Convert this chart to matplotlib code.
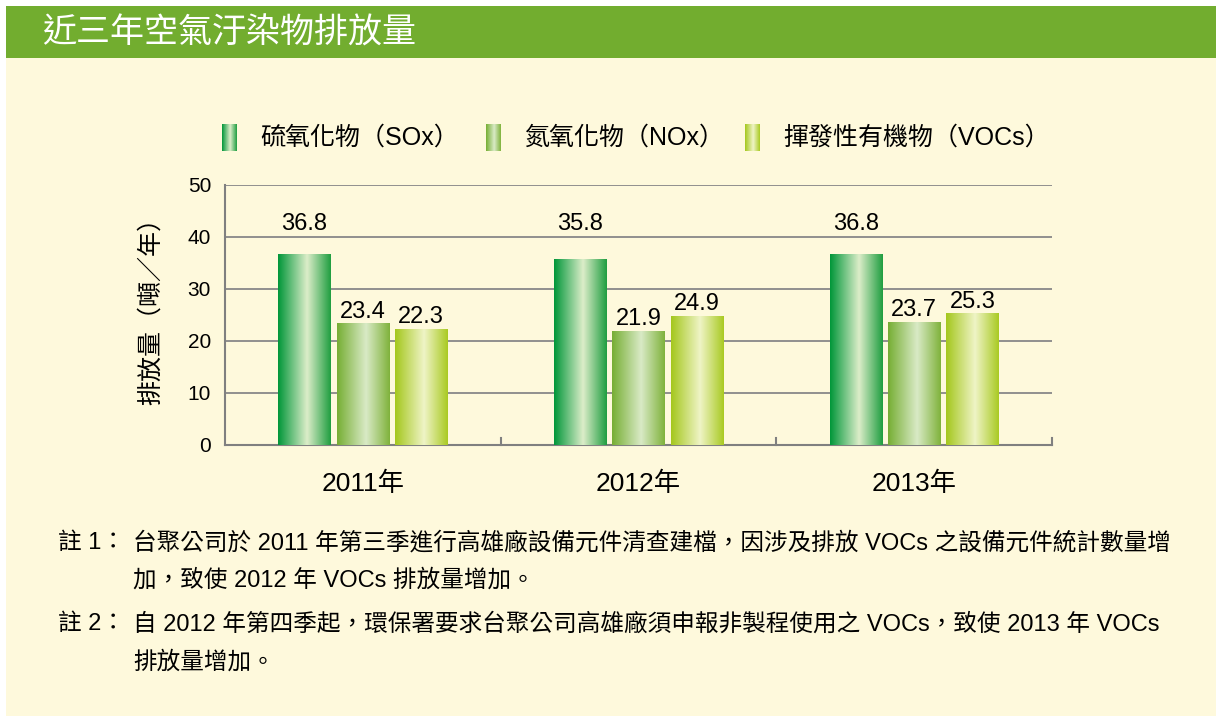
import matplotlib
matplotlib.use("Agg")
import matplotlib.pyplot as plt
import numpy as np
from matplotlib.colors import LinearSegmentedColormap
from matplotlib.patches import Rectangle

plt.rcParams['font.family'] = ['Liberation Sans', 'Noto Sans CJK TC']

# data
years = ["2011年", "2012年", "2013年"]
series_names = ["硫氧化物（SOx）", "氮氧化物（NOx）", "揮發性有機物（VOCs）"]
sox = [36.8, 35.8, 36.8]
nox = [23.4, 21.9, 23.7]
vocs = [22.3, 24.9, 25.3]
yticks = [0, 10, 20, 30, 40, 50]

title = "近三年空氣汙染物排放量"
ylabel = "排放量（噸／年）"
note1_a = "台聚公司於 2011 年第三季進行高雄廠設備元件清查建檔，因涉及排放 VOCs 之設備元件統計數量增"
note1_b = "加，致使 2012 年 VOCs 排放量增加。"
note2_a = "自 2012 年第四季起，環保署要求台聚公司高雄廠須申報非製程使用之 VOCs，致使 2013 年 VOCs"
note2_b = "排放量增加。"

# gradient stops (edge, highlight, edge)
grad_colors = [
    ["#009639", "#dcedc9", "#1f9e40"],
    ["#76ae33", "#d9eac6", "#7fb23b"],
    ["#a4c71c", "#eff4c6", "#a9ca22"],
]
cmaps = [LinearSegmentedColormap.from_list("g%d" % i, [(0, c[0]), (0.55, c[1]), (1, c[2])])
         for i, c in enumerate(grad_colors)]
grad = np.linspace(0, 1, 256).reshape(1, -1)

W, H = 1216, 716
fig = plt.figure(figsize=(W / 100, H / 100), dpi=100)
fig.patch.set_facecolor("white")

def fx(px):
    return px / W

def fy(py):
    return 1 - py / H

# background panels
fig.patches.append(Rectangle((fx(6), 0), 1 - fx(6), fy(58), transform=fig.transFigure,
                             facecolor="#fef9dc", edgecolor="none", zorder=-5))
fig.patches.append(Rectangle((fx(6), fy(58)), 1 - fx(6), fy(6) - fy(58), transform=fig.transFigure,
                             facecolor="#72ad2f", edgecolor="none", zorder=-5))
fig.text(fx(42), fy(33), title, color="white", fontsize=24.5, va="center", ha="left")

ax = fig.add_axes([fx(225), fy(445), fx(1052) - fx(225), fy(185) - fy(445)])
ax.set_facecolor("none")

x = np.arange(len(years))
bw = 0.19
step = 0.212
all_series = [sox, nox, vocs]
for i, vals in enumerate(all_series):
    bars = ax.bar(x + (i - 1) * step, vals, bw, color=grad_colors[i][0], zorder=3)
    for b in bars:
        im = ax.imshow(grad, cmap=cmaps[i], aspect="auto", zorder=4,
                       extent=[b.get_x(), b.get_x() + b.get_width(), 0, b.get_height()])
        im.set_clip_path(b)

# value labels
SOX_LABEL_Y = 42.5
for j in range(len(years)):
    ax.text(x[j] - step, SOX_LABEL_Y, "%.1f" % sox[j], ha="center", va="center", fontsize=17, zorder=5)
for i, vals in enumerate([nox, vocs]):
    for j, v in enumerate(vals):
        ax.annotate("%.1f" % v, (x[j] + i * step, v), xytext=(0, 0.5), textcoords="offset points",
                    ha="center", va="bottom", fontsize=17, zorder=5)

ax.set_xlim(-0.5, 2.5)
ax.set_ylim(0, 50)
ax.set_yticks(yticks)
ax.yaxis.grid(True, color="#888888", lw=1.3, zorder=1)
ax.set_axisbelow(True)
ax.tick_params(axis="y", length=0, pad=10, labelsize=15)
ax.set_xticks(x)
ax.set_xticklabels(years, fontsize=19)
ax.tick_params(axis="x", length=0, pad=19)
for bx in [0.5, 1.5, 2.5]:
    ax.plot([bx, bx], [0, 1.3], color="#808080", lw=1.5, clip_on=False, zorder=2)
for s in ["top", "right"]:
    ax.spines[s].set_visible(False)
for s in ["left", "bottom"]:
    ax.spines[s].set_color("#808080")
    ax.spines[s].set_linewidth(1.5)

fig.text(fx(151), fy(305), ylabel, rotation=90, fontsize=18, ha="center", va="center")

# legend
leg_x = [222, 486, 745]
for i, name in enumerate(series_names):
    lax = fig.add_axes([fx(leg_x[i]), fy(151), fx(15), fy(124) - fy(151)])
    lax.imshow(grad, cmap=cmaps[i], aspect="auto")
    lax.axis("off")
    fig.text(fx(leg_x[i] + 38), fy(138), name, fontsize=18, va="center", ha="left")

# notes
fs = 17
fig.text(fx(58), fy(543), "註 1：", fontsize=fs, va="center")
fig.text(fx(133), fy(543), note1_a, fontsize=fs, va="center")
fig.text(fx(133), fy(580), note1_b, fontsize=fs, va="center")
fig.text(fx(58), fy(624), "註 2：", fontsize=fs, va="center")
fig.text(fx(133), fy(624), note2_a, fontsize=fs, va="center")
fig.text(fx(133), fy(662), note2_b, fontsize=fs, va="center")

fig.savefig("out.png", dpi=100, facecolor=fig.get_facecolor())
